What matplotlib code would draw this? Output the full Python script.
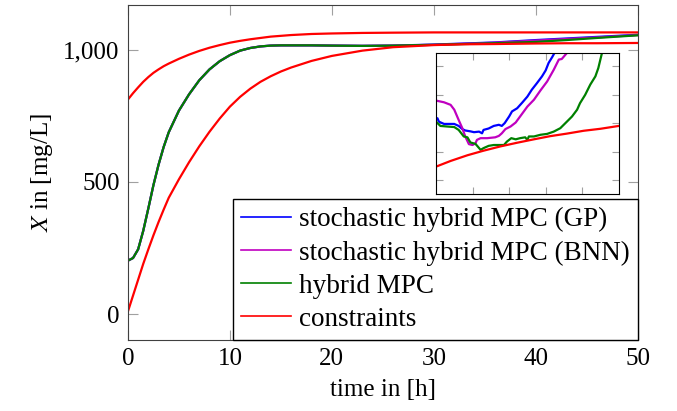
import matplotlib
matplotlib.use("Agg")
import matplotlib.pyplot as plt

plt.rcParams["font.family"] = "Liberation Serif"
plt.rcParams["mathtext.fontset"] = "stix"

# main plot: time [h] and biomass [mg/L]
t = [0, 0.5, 1, 1.5, 2, 2.5, 3, 3.5, 4, 5, 6, 7, 8, 9, 10, 11, 12, 13, 14, 15,
     16, 18, 20, 23, 26, 30, 33, 36, 40, 43, 46, 50]
x_hybrid = [202, 212, 245, 315, 400, 488, 565, 632, 688, 770, 832, 885, 926, 957, 980,
            997, 1007, 1013, 1016, 1017, 1017, 1017, 1016, 1015, 1016,
            1019, 1022, 1025, 1030, 1037, 1045, 1055]
x_gp = x_hybrid[:25] + [1020, 1024, 1028, 1037, 1043, 1049, 1057]
x_bnn = x_hybrid[:25] + [1019, 1023, 1027, 1035, 1041, 1047, 1056]
x_lower = [10, 70, 130, 190, 245, 298, 348, 395, 440, 510, 575, 635, 690, 740, 785,
           822, 853, 879, 900, 918, 933, 958, 977, 997, 1010,
           1018, 1021, 1022, 1024, 1025, 1025, 1026]
x_upper = [812, 836, 858, 879, 897, 913, 926, 938, 948, 966, 982, 996, 1008, 1018, 1027,
           1034, 1040, 1045, 1050, 1053, 1056, 1060, 1062, 1064, 1065,
           1066, 1066, 1066, 1066, 1066, 1066, 1066]

# inset (zoomed view)
ti_gp = [25.0, 25.2, 25.4, 26.1, 27.5, 28.1, 28.6, 29.0, 29.7, 30.2, 30.9, 31.3, 31.5,
         32.2, 32.9, 33.6, 34.0, 34.4, 35.0, 35.4, 36.1, 36.8, 37.5, 38.1, 38.8, 39.5,
         40.0, 40.4, 40.9, 41.2, 42.0]
xi_gp = [1031.2, 1031.8, 1030.6, 1029.8, 1029.8, 1029.1, 1028.0, 1027.5, 1027.2, 1026.9,
         1027.1, 1026.5, 1027.7, 1028.2, 1029.1, 1029.5, 1029.1, 1030.1, 1032.4, 1034.2,
         1035.3, 1037.3, 1039.4, 1041.8, 1044.1, 1046.5, 1048.6, 1051.2, 1053.3, 1054.7,
         1058.0]
ti_bnn = [25.0, 26.1, 27.0, 27.5, 28.1, 28.6, 29.0, 29.5, 30.0, 30.4, 30.6, 31.1, 32.0,
          33.1, 33.6, 34.0, 34.5, 35.2, 35.9, 36.5, 37.5, 38.4, 39.3, 40.2, 41.1, 41.8,
          42.2, 42.9, 44.0]
xi_bnn = [1038.0, 1037.4, 1036.5, 1034.8, 1031.2, 1028.3, 1025.4, 1022.7, 1022.4, 1023.0,
          1024.2, 1024.8, 1024.8, 1025.1, 1025.6, 1026.5, 1028.0, 1028.9, 1030.3, 1032.4,
          1035.9, 1038.3, 1041.6, 1044.7, 1048.8, 1052.4, 1052.6, 1054.7, 1058.0]
ti_hyb = [25.0, 25.6, 26.5, 27.5, 28.1, 28.8, 29.3, 29.7, 30.4, 30.9, 31.1, 31.5, 32.2,
          32.9, 33.6, 34.3, 34.7, 35.3, 35.9, 36.5, 37.2, 37.5, 37.7, 38.4, 39.3, 40.2,
          41.1, 42.0, 42.9, 43.6, 44.3, 44.7, 45.4, 46.1, 46.8, 47.2, 47.7, 48.5]
xi_hyb = [1030.6, 1029.1, 1028.9, 1028.7, 1027.7, 1025.4, 1025.1, 1023.3, 1022.8, 1021.3,
          1020.7, 1021.3, 1022.1, 1022.4, 1022.4, 1022.4, 1023.6, 1024.8, 1024.4, 1024.8,
          1025.1, 1024.2, 1025.4, 1025.4, 1026.0, 1026.3, 1027.1, 1028.3, 1030.6, 1032.4,
          1034.8, 1037.1, 1040.0, 1043.6, 1046.5, 1049.4, 1054.7, 1058.0]
ti_con = [25, 27, 29.3, 31.5, 33.8, 36.1, 38.4, 40.6, 42.9, 45.2, 47.5, 50]
xi_con = [1014.8, 1016.8, 1018.8, 1020.4, 1021.9, 1023.2, 1024.4, 1025.5, 1026.4,
          1027.4, 1028.1, 1029.1]

fig = plt.figure(figsize=(6.77, 4.11), dpi=100)
ax = fig.add_axes([0.189, 0.173, 0.753, 0.815])

lw = 1.6
ax.plot(t, x_gp, color="blue", lw=lw, label="stochastic hybrid MPC (GP)")
ax.plot(t, x_bnn, color="#c000c0", lw=lw, label="stochastic hybrid MPC (BNN)")
ax.plot(t, x_hybrid, color="green", lw=lw, label="hybrid MPC")
ax.plot(t, x_lower, color="red", lw=lw, label="constraints")
ax.plot(t, x_upper, color="red", lw=lw)

ax.set_xlim(0, 50)
ax.set_ylim(-98, 1170)
ax.set_xticks([0, 10, 20, 30, 40, 50])
ax.set_yticks([0, 500, 1000])
ax.set_yticklabels(["0", "500", "1,000"])
ax.tick_params(direction="in", length=7, color="#a0a0a0", labelsize=18,
               top=True, right=True, pad=6)
for s in ax.spines.values():
    s.set_color("#404040")
ax.set_xlabel("time in [h]", fontsize=18, labelpad=6)
ax.set_ylabel(r"$X$ in [mg/L]", fontsize=18, labelpad=6)

leg = ax.legend(loc="lower right", fontsize=19.5, frameon=True, fancybox=False,
                edgecolor="black", framealpha=1, borderaxespad=0,
                handlelength=1.85, handletextpad=0.3, labelspacing=0.3,
                borderpad=0.3)
leg.get_frame().set_linewidth(1.0)
for line in leg.get_lines():
    line.set_linewidth(1.2)

# inset
axi = fig.add_axes([0.644, 0.528, 0.270, 0.343])
axi.plot(ti_gp, xi_gp, color="blue", lw=1.6)
axi.plot(ti_bnn, xi_bnn, color="#c000c0", lw=1.6)
axi.plot(ti_hyb, xi_hyb, color="green", lw=1.6)
axi.plot(ti_con, xi_con, color="red", lw=1.6)
axi.set_xlim(25, 50)
axi.set_ylim(1005.2, 1054.7)
axi.set_xticks([30, 35, 40, 45])
axi.set_yticks([1010, 1020, 1030, 1040, 1050])
axi.tick_params(direction="in", length=5, color="#a0a0a0", top=True, right=True,
                labelbottom=False, labelleft=False)
for s in axi.spines.values():
    s.set_color("black")

fig.savefig("out.png", dpi=100)
